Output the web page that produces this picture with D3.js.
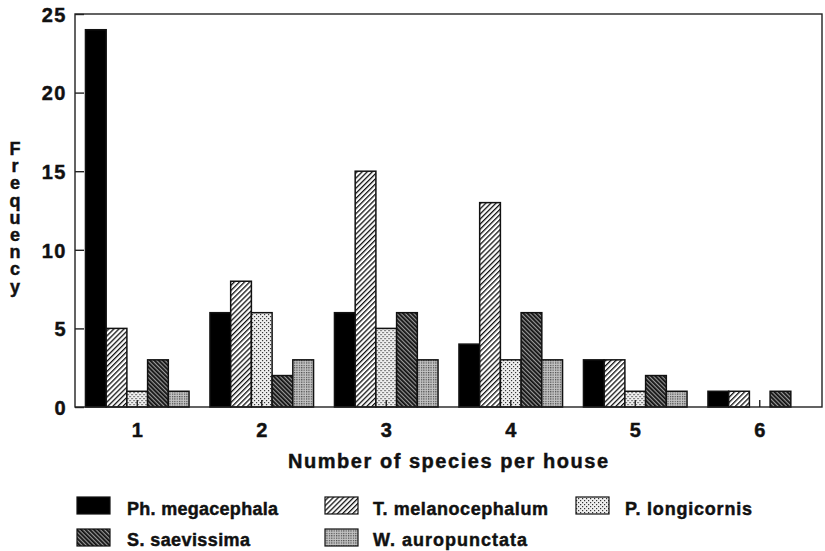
<!DOCTYPE html>
<html>
<head>
<meta charset="utf-8">
<script src="https://cdn.jsdelivr.net/npm/d3@7/dist/d3.min.js"></script>
<style>
  html, body { margin: 0; padding: 0; background: #fff; }
  svg { display: block; }
  text { font-family: "Liberation Sans", Arial, sans-serif; font-weight: bold; fill: #111; stroke: #111; stroke-width: 0.45px; }
  .vtitle { writing-mode: vertical-rl; text-orientation: upright; }
</style>
</head>
<body>
<svg id="chart" width="825" height="551"></svg>
<script>
// ---- data ----
const categories = ["1", "2", "3", "4", "5", "6"];
const seriesNames = ["Ph. megacephala", "T. melanocephalum", "P. longicornis", "S. saevissima", "W. auropunctata"];
const phMegacephala   = [24, 6, 6, 4, 3, 1];
const tMelanocephalum = [5, 8, 15, 13, 3, 1];
const pLongicornis    = [1, 6, 5, 3, 1, 0];
const sSaevissima     = [3, 2, 6, 6, 2, 1];
const wAuropunctata   = [1, 3, 3, 3, 1, 0];
const yTicks = [0, 5, 10, 15, 20, 25];
const xTitle = "Number of species per house";
const yTitle = "Frequency";

const seriesValues = [phMegacephala, tMelanocephalum, pLongicornis, sSaevissima, wAuropunctata];
const fills = ["#000", "url(#pT)", "url(#pP)", "url(#pS)", "url(#pW)"];

const svg = d3.select("#chart");
const mLeft = 75, mRight = 822, mTop = 14, mBottom = 407;

// ---- patterns ----
const defs = svg.append("defs");
const pT = defs.append("pattern").attr("id", "pT").attr("patternUnits", "userSpaceOnUse")
  .attr("width", 3.6).attr("height", 3.6).attr("patternTransform", "rotate(45)");
pT.append("rect").attr("width", 3.6).attr("height", 3.6).attr("fill", "#fff");
pT.append("rect").attr("x", 0).attr("width", 1.3).attr("height", 3.6).attr("fill", "#111");
const pS = defs.append("pattern").attr("id", "pS").attr("patternUnits", "userSpaceOnUse")
  .attr("width", 3).attr("height", 3).attr("patternTransform", "rotate(-45)");
pS.append("rect").attr("width", 3).attr("height", 3).attr("fill", "#999");
pS.append("rect").attr("x", 0).attr("width", 1.8).attr("height", 3).attr("fill", "#111");
const pP = defs.append("pattern").attr("id", "pP").attr("patternUnits", "userSpaceOnUse")
  .attr("width", 4).attr("height", 4);
pP.append("rect").attr("width", 4).attr("height", 4).attr("fill", "#efefef");
pP.append("rect").attr("x", 0).attr("y", 0).attr("width", 1.2).attr("height", 1.2).attr("fill", "#333");
pP.append("rect").attr("x", 2).attr("y", 2).attr("width", 1.2).attr("height", 1.2).attr("fill", "#333");
const pW = defs.append("pattern").attr("id", "pW").attr("patternUnits", "userSpaceOnUse")
  .attr("width", 2.4).attr("height", 2.4);
pW.append("rect").attr("width", 2.4).attr("height", 2.4).attr("fill", "#c4c4c4");
pW.append("rect").attr("x", 0).attr("y", 0).attr("width", 1.2).attr("height", 1.2).attr("fill", "#444");

// ---- scales ----
const x0 = d3.scaleBand().domain(categories).range([mLeft, mRight]).paddingInner(0.168).paddingOuter(0.084);
const x1 = d3.scaleBand().domain(d3.range(seriesNames.length)).range([0, x0.bandwidth()]);
const y = d3.scaleLinear().domain([0, 25]).range([mBottom, mTop]);

// ---- bars ----
const g = svg.append("g");
categories.forEach((c, ci) => {
  const gg = g.append("g").attr("transform", `translate(${x0(c)},0)`);
  gg.selectAll("rect").data(seriesValues.map((s, si) => ({si, v: s[ci]})).filter(d => d.v > 0))
    .join("rect")
    .attr("x", d => x1(d.si))
    .attr("y", d => y(d.v))
    .attr("width", x1.bandwidth())
    .attr("height", d => y(0) - y(d.v))
    .attr("fill", d => fills[d.si])
    .attr("stroke", "#111").attr("stroke-width", 1.5);
});

// ---- frame ----
svg.append("rect").attr("x", mLeft).attr("y", mTop).attr("width", mRight - mLeft).attr("height", mBottom - mTop)
  .attr("fill", "none").attr("stroke", "#222").attr("stroke-width", 1.4);

// ---- axes ----
const yAxis = d3.axisLeft(y).tickValues(yTicks).tickSizeInner(-9).tickSizeOuter(0).tickPadding(8);
const yg = svg.append("g").attr("transform", `translate(${mLeft},0)`).call(yAxis);
yg.select(".domain").remove();
yg.selectAll("line").attr("stroke", "#222").attr("stroke-width", 1.4);
yg.selectAll("text").attr("font-size", 20).attr("font-family", "Liberation Sans, Arial, sans-serif")
  .attr("font-weight", "bold").attr("fill", "#111").attr("letter-spacing", 1.5).attr("dy", "0.36em");

const xAxis = d3.axisBottom(x0).tickSizeInner(-7).tickSizeOuter(0).tickPadding(16);
const xg = svg.append("g").attr("transform", `translate(0,${mBottom})`).call(xAxis);
xg.select(".domain").remove();
xg.selectAll("line").attr("stroke", "#222").attr("stroke-width", 1.4);
xg.selectAll("text").attr("font-size", 20).attr("font-family", "Liberation Sans, Arial, sans-serif")
  .attr("font-weight", "bold").attr("fill", "#111");

// ---- titles ----
svg.append("text").attr("x", 288).attr("y", 468).attr("font-size", 20)
  .attr("textLength", 320).attr("lengthAdjust", "spacing").text(xTitle);

svg.append("text").attr("class", "vtitle")
  .attr("x", 15).attr("y", 139)
  .attr("font-size", 18).attr("letter-spacing", -2.8).text(yTitle);

// ---- legend ----
const legendPos = [
  {px: 77, py: 497, tx: 127, ty: 515, w: 151},
  {px: 325, py: 497, tx: 373, ty: 515, w: 175},
  {px: 576, py: 497, tx: 625, ty: 515, w: 127},
  {px: 77, py: 529, tx: 127, ty: 546, w: 123},
  {px: 325, py: 529, tx: 373, ty: 546, w: 154}
];
const lg = svg.append("g");
seriesNames.forEach((name, i) => {
  const p = legendPos[i];
  lg.append("rect").attr("x", p.px).attr("y", p.py).attr("width", 33).attr("height", 17)
    .attr("fill", fills[i]).attr("stroke", "#111").attr("stroke-width", 1.2);
  lg.append("text").attr("x", p.tx).attr("y", p.ty).attr("font-size", 18)
    .attr("textLength", p.w).attr("lengthAdjust", "spacing").text(name);
});
</script>
</body>
</html>
